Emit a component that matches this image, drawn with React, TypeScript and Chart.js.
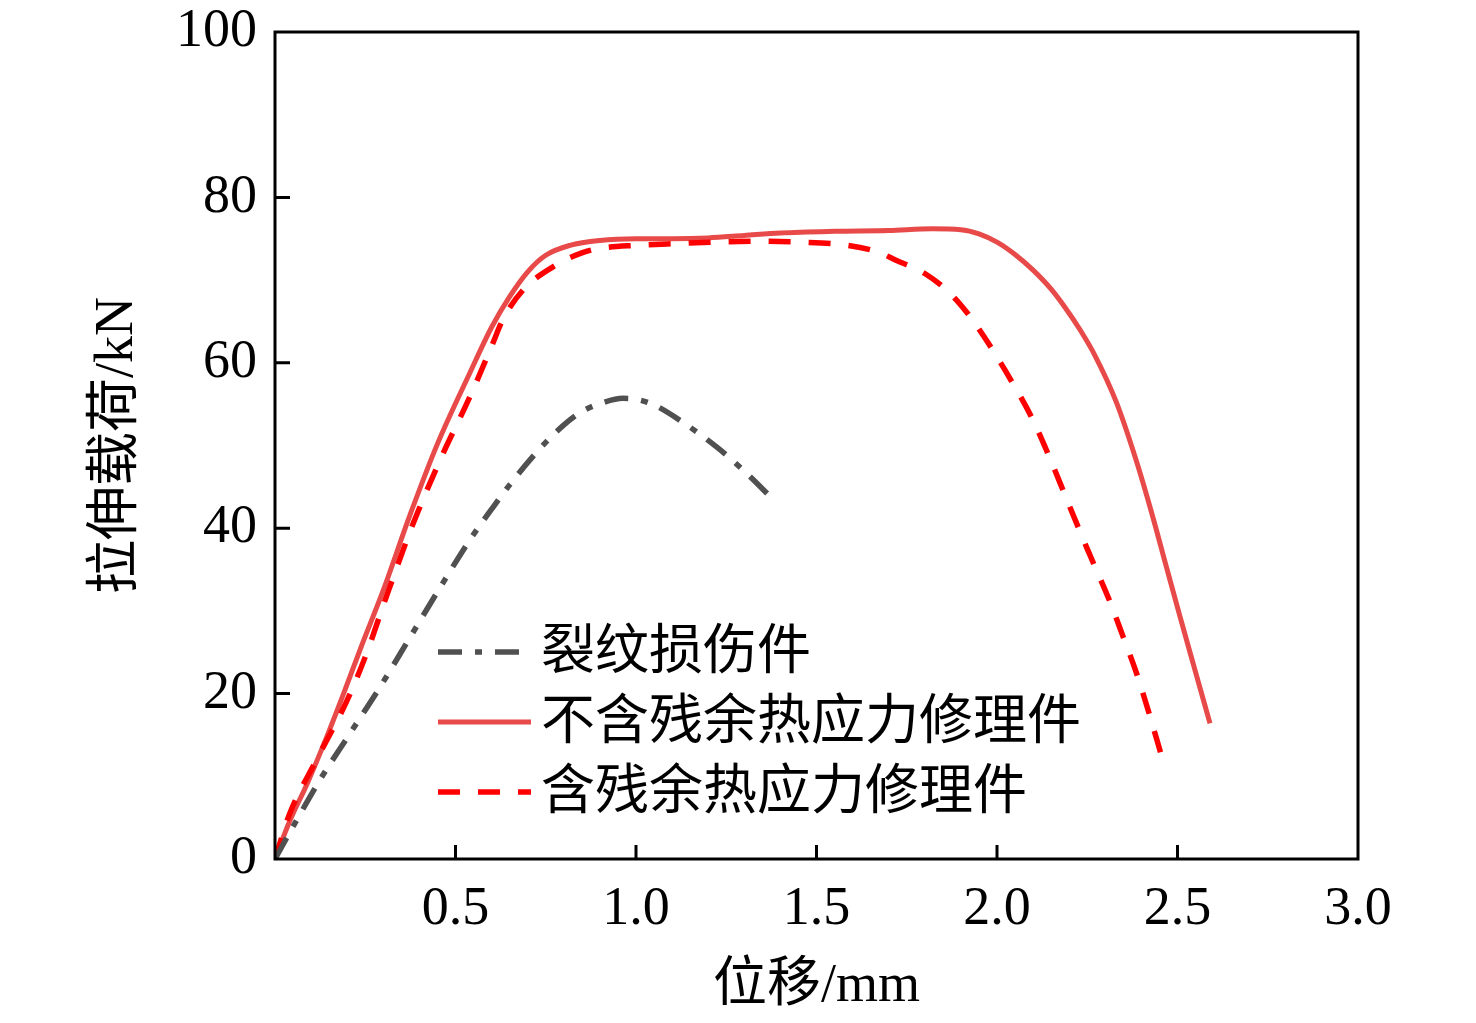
import { useEffect, useRef } from 'react'
import { Chart, registerables } from 'chart.js'
import type { Plugin } from 'chart.js'

Chart.register(...registerables)

const FONT = "'Liberation Serif', 'Times New Roman', 'Noto Sans CJK SC', serif"

// 坐标轴刻度
const xTicks = [0, 0.5, 1.0, 1.5, 2.0, 2.5, 3.0]
const yTicks = [0, 20, 40, 60, 80, 100]

// 裂纹损伤件
const crackX = [0, 0.06, 0.125, 0.208, 0.291, 0.374, 0.45, 0.54, 0.6, 0.651, 0.725, 0.798, 0.85, 0.909, 0.964, 1.0, 1.05, 1.13, 1.224, 1.3, 1.377]
const crackY = [0, 4.7, 9.6, 15.2, 20.8, 26.8, 32.3, 38.6, 42.3, 45.3, 49.2, 52.4, 54.1, 55.2, 55.7, 55.6, 54.9, 52.8, 49.8, 46.9, 43.6]

// 不含残余热应力修理件
const repairX = [0, 0.04, 0.09, 0.14, 0.19, 0.24, 0.3, 0.374, 0.45, 0.54, 0.6, 0.65, 0.7, 0.75, 0.817, 0.9, 1.0, 1.1, 1.2, 1.3, 1.4, 1.55, 1.7, 1.82, 1.9, 1.95, 2.0, 2.05, 2.1, 2.15, 2.19, 2.23, 2.27, 2.33, 2.387, 2.432, 2.47, 2.507, 2.55, 2.59]
const repairY = [0, 4.5, 9.2, 14.4, 20, 25.8, 32.5, 41.6, 50.2, 58.8, 64.3, 68, 71, 73, 74.2, 74.8, 75, 75, 75.1, 75.4, 75.7, 75.9, 76, 76.2, 76.1, 75.6, 74.6, 73.1, 71.2, 68.9, 66.6, 64, 61, 55.3, 48, 41.3, 35.2, 29.3, 22.6, 16.4]

// 含残余热应力修理件
const residualX = [0, 0.04, 0.115, 0.2, 0.254, 0.305, 0.383, 0.46, 0.54, 0.6, 0.632, 0.687, 0.77, 0.85, 0.91, 1.0, 1.1, 1.233, 1.35, 1.45, 1.57, 1.67, 1.72, 1.8, 1.87, 1.92, 1.962, 2.0, 2.036, 2.097, 2.147, 2.193, 2.25, 2.313, 2.35, 2.387, 2.42, 2.457]
const residualY = [0, 5.4, 12, 19.2, 24.9, 31.3, 40.6, 48.5, 55.9, 62, 65.3, 68.8, 71.6, 73.3, 73.9, 74.2, 74.4, 74.6, 74.7, 74.6, 74.3, 73.4, 72.4, 70.8, 68.4, 65.9, 63.3, 60.7, 58.1, 53.3, 48.4, 43.5, 37.5, 31.1, 26.8, 22.4, 17.8, 12.3]

const legendLabels = ['裂纹损伤件', '不含残余热应力修理件', '含残余热应力修理件']

const pts = (xs: number[], ys: number[]) => xs.map((x, i) => ({ x, y: ys[i] }))

// 图框 + 内向刻度
const framePlugin: Plugin<'line'> = {
  id: 'frame',
  afterDraw(chart) {
    const { ctx, chartArea: a, scales } = chart
    ctx.save()
    ctx.strokeStyle = '#000'
    ctx.lineWidth = 3
    ctx.strokeRect(a.left, a.top, a.right - a.left, a.bottom - a.top)
    ctx.beginPath()
    xTicks.forEach(v => {
      if (v <= 0 || v >= 3) return
      const px = scales.x.getPixelForValue(v)
      ctx.moveTo(px, a.bottom)
      ctx.lineTo(px, a.bottom - 14)
    })
    yTicks.forEach(v => {
      if (v <= 0 || v >= 100) return
      const py = scales.y.getPixelForValue(v)
      ctx.moveTo(a.left, py)
      ctx.lineTo(a.left + 15, py)
    })
    ctx.stroke()
    ctx.restore()
  },
}

// 图内图例
const legendPlugin: Plugin<'line'> = {
  id: 'insideLegend',
  afterDraw(chart) {
    const { ctx, chartArea: a } = chart
    const x0 = a.left + 163
    const x1 = a.left + 256
    const tx = a.left + 266
    legendLabels.forEach((label, i) => {
      const ds: any = chart.data.datasets[i]
      const y = a.top + 620 + i * 70
      ctx.save()
      ctx.strokeStyle = ds.borderColor
      ctx.lineWidth = ds.borderWidth
      ctx.setLineDash(ds.borderDash ?? [])
      ctx.beginPath()
      ctx.moveTo(x0, y)
      ctx.lineTo(x1, y)
      ctx.stroke()
      ctx.setLineDash([])
      ctx.fillStyle = '#000'
      ctx.font = `54px ${FONT}`
      ctx.textBaseline = 'middle'
      ctx.textAlign = 'left'
      ctx.fillText(label, tx, y + 3)
      ctx.restore()
    })
  },
}

export default function App() {
  const ref = useRef<HTMLCanvasElement>(null)
  const chart = useRef<Chart<'line'> | null>(null)

  useEffect(() => {
    document.body.style.margin = '0'
    if (!ref.current) return
    chart.current?.destroy()

    chart.current = new Chart(ref.current, {
      type: 'line',
      data: {
        datasets: [
          {
            label: legendLabels[0],
            data: pts(crackX, crackY),
            borderColor: '#505050', borderWidth: 5.5,
            borderDash: [24, 13, 7, 13],
            pointRadius: 0, cubicInterpolationMode: 'monotone', order: 0,
          },
          {
            label: legendLabels[1],
            data: pts(repairX, repairY),
            borderColor: '#e84a4a', borderWidth: 5,
            pointRadius: 0, cubicInterpolationMode: 'monotone', order: 2,
          },
          {
            label: legendLabels[2],
            data: pts(residualX, residualY),
            borderColor: '#ff0000', borderWidth: 5.5,
            borderDash: [22, 18],
            pointRadius: 0, cubicInterpolationMode: 'monotone', order: 1,
          },
        ],
      },
      options: {
        animation: false,
        responsive: true, maintainAspectRatio: false,
        layout: { padding: { left: 0, right: 118, top: 32, bottom: 0 } },
        plugins: { legend: { display: false }, tooltip: { enabled: false } },
        scales: {
          x: {
            type: 'linear', min: 0, max: 3,
            afterBuildTicks: s => { s.ticks = xTicks.map(value => ({ value })) },
            afterFit: (s: any) => { s.height = 164; s.paddingLeft = 0; s.paddingRight = 0 },
            grid: { display: false, drawTicks: false },
            border: { display: false },
            ticks: {
              color: '#000', padding: 18, maxRotation: 0,
              font: { family: FONT, size: 54 },
              callback: v => (Number(v) === 0 ? '' : Number(v).toFixed(1)),
            },
            title: {
              display: true, text: '位移/mm', color: '#000',
              font: { family: FONT, size: 54, lineHeight: 1.2 },
              padding: { top: 0, bottom: 4 },
            },
          },
          y: {
            type: 'linear', min: 0, max: 100,
            afterBuildTicks: s => { s.ticks = yTicks.map(value => ({ value })) },
            afterFit: (s: any) => { s.width = 275; s.paddingTop = 0; s.paddingBottom = 0 },
            grid: { display: false, drawTicks: false },
            border: { display: false },
            ticks: {
              color: '#000', padding: 18,
              font: { family: FONT, size: 54 },
            },
            title: {
              display: true, text: '拉伸载荷/kN', color: '#000',
              font: { family: FONT, size: 54, lineHeight: 1.2 },
              padding: { top: 85, bottom: 0 },
            },
          },
        },
      },
      plugins: [framePlugin, legendPlugin],
    })
    return () => chart.current?.destroy()
  }, [])

  return (
    <div style={{ position: 'relative', width: 1476, height: 1023, background: '#fff' }}>
      <canvas ref={ref} role="img" aria-label="拉伸载荷-位移曲线" />
    </div>
  )
}
